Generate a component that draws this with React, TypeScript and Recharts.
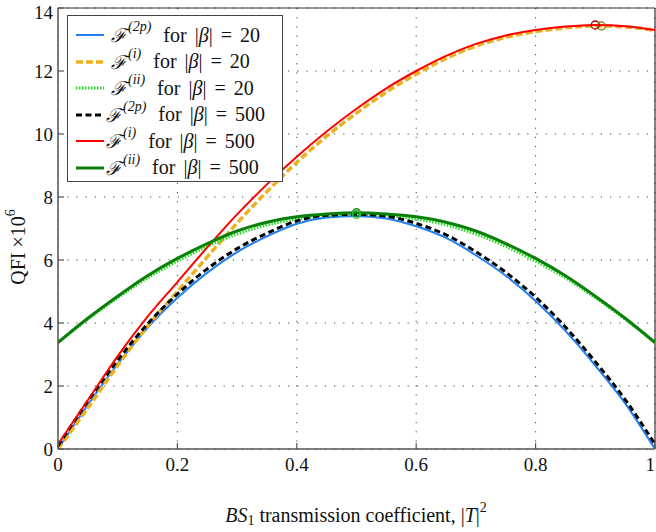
import { CartesianGrid, Line, LineChart, ReferenceDot, ReferenceLine, XAxis, YAxis } from "recharts"

const T = [0, 0.05, 0.1, 0.15, 0.2, 0.25, 0.3, 0.35, 0.4, 0.45, 0.5, 0.55, 0.6, 0.65, 0.7, 0.75, 0.8, 0.85, 0.9, 0.95, 1]

const f2p20 = [0, 1.4, 2.7, 3.85, 4.8, 5.6, 6.25, 6.75, 7.15, 7.35, 7.4, 7.32, 7.07, 6.7, 6.15, 5.5, 4.7, 3.75, 2.65, 1.45, 0]
const fi20 = [0, 1.3, 2.65, 3.9, 5.0, 6.1, 7.17, 8.17, 9.1, 9.93, 10.66, 11.33, 11.9, 12.4, 12.79, 13.07, 13.25, 13.37, 13.43, 13.4, 13.29]
const fii20 = [3.38, 4.12, 4.8, 5.43, 5.96, 6.43, 6.82, 7.11, 7.3, 7.41, 7.45, 7.41, 7.3, 7.11, 6.82, 6.43, 5.96, 5.43, 4.8, 4.12, 3.38]
const f2p500 = [0.1, 1.52, 2.82, 3.97, 4.92, 5.72, 6.36, 6.85, 7.24, 7.42, 7.45, 7.39, 7.16, 6.8, 6.26, 5.61, 4.82, 3.87, 2.77, 1.57, 0.15]
const fi500 = [0.15, 1.55, 2.95, 4.2, 5.3, 6.4, 7.45, 8.4, 9.28, 10.08, 10.8, 11.45, 12.0, 12.48, 12.86, 13.13, 13.3, 13.41, 13.46, 13.42, 13.3]
const fii500 = [3.38, 4.15, 4.85, 5.5, 6.05, 6.52, 6.92, 7.2, 7.37, 7.46, 7.5, 7.46, 7.37, 7.2, 6.92, 6.52, 6.05, 5.5, 4.85, 4.15, 3.38]

const xTicks = [0, 0.2, 0.4, 0.6, 0.8, 1]
const yTicks = [0, 2, 4, 6, 8, 10, 12, 14]

// optimum markers
const peaks = [
  { x: 0.9, y: 13.46, color: "#a00000" },
  { x: 0.91, y: 13.43, color: "#7a7a00" },
  { x: 0.5, y: 7.5, color: "#1a8a1a" },
  { x: 0.5, y: 7.45, color: "#20c040" },
]

const data = T.map((t, i) => ({
  t,
  f2p20: f2p20[i],
  fi20: fi20[i],
  fii20: fii20[i],
  f2p500: f2p500[i],
  fi500: fi500[i],
  fii500: fii500[i],
}))

const series = [
  { key: "f2p20", color: "#1e7ff0", width: 2, dash: undefined, sup: "(2p)", beta: "20" },
  { key: "fi20", color: "#edb120", width: 3.5, dash: "7 3", sup: "(i)", beta: "20" },
  { key: "fii20", color: "#22e022", width: 3, dash: "1.5 1.5", sup: "(ii)", beta: "20" },
  { key: "f2p500", color: "#000000", width: 3, dash: "6 3.5", sup: "(2p)", beta: "500" },
  { key: "fi500", color: "#ff0000", width: 2, dash: undefined, sup: "(i)", beta: "500" },
  { key: "fii500", color: "#0a7f0a", width: 3, dash: undefined, sup: "(ii)", beta: "500" },
]

const FONT = "'Liberation Serif', 'DejaVu Serif', serif"
const AXIS = "#555"

function fmtX(v: number) {
  if (v === 0) return "0"
  if (v === 1) return "1"
  return v.toFixed(1)
}

function XTick(props: any) {
  const { x, y, payload } = props
  const last = payload.value === 1
  return (
    <g>
      <line x1={x} x2={x} y1={y} y2={y - 6} stroke={AXIS} strokeWidth={1.2} />
      <text x={last ? x : x} y={y + 15} textAnchor={last ? "end" : "middle"} dominantBaseline="central" fontSize={19} fontFamily={FONT} fill="#111">
        {fmtX(payload.value)}
      </text>
    </g>
  )
}

function YTick(props: any) {
  const { x, y, payload } = props
  const shift = payload.value === 14 ? 4 : 0
  return (
    <g>
      <line x1={x} x2={x + 6} y1={y} y2={y} stroke={AXIS} strokeWidth={1.2} />
      <text x={x - 5} y={y + shift} textAnchor="end" dominantBaseline="central" fontSize={19} fontFamily={FONT} fill="#111">
        {payload.value}
      </text>
    </g>
  )
}

function YLabel() {
  return (
    <text x={18} y={247} transform="rotate(-90 18 247)" textAnchor="middle" dominantBaseline="central" fontSize={20} fontFamily={FONT} fill="#111">
      QFI ×10<tspan dy={-8} fontSize={14}>6</tspan>
    </text>
  )
}

function XLabel() {
  return (
    <text x={356} y={515} textAnchor="middle" dominantBaseline="central" fontSize={20} fontFamily={FONT} fill="#111">
      <tspan fontStyle="italic">BS</tspan>
      <tspan dy={5} fontSize={14}>1</tspan>
      <tspan dy={-5}> transmission coefficient, |</tspan>
      <tspan fontStyle="italic">T</tspan>
      <tspan>|</tspan>
      <tspan dy={-8} fontSize={14}>2</tspan>
    </text>
  )
}

function LegendBox() {
  return (
    <div
      style={{
        position: "absolute",
        left: 67,
        top: 15,
        width: 216,
        height: 167,
        border: "1px solid #444",
        background: "#fff",
        fontFamily: FONT,
        fontSize: 20,
        color: "#111",
        paddingTop: 6,
        boxSizing: "border-box",
      }}
    >
      {series.map((s, i) => (
        <div key={s.key} style={{ height: 26.5, display: "flex", alignItems: "center", whiteSpace: "nowrap" }}>
          <svg width={30} height={10} style={{ marginLeft: 7, marginRight: i < 3 ? 6 : 1 }}>
            <line x1={1} x2={29} y1={5} y2={5} stroke={s.color} strokeWidth={s.width} strokeDasharray={s.dash} />
          </svg>
          <span style={{ fontFamily: "'DejaVu Serif', serif", fontStyle: "italic", fontSize: 19 }}>ℱ</span>
          <span style={{ fontStyle: "italic", fontSize: 14, position: "relative", top: -8, marginLeft: 1 }}>{s.sup}</span>
          <span style={{ marginLeft: 12, wordSpacing: 3 }}>
            for |<span style={{ fontStyle: "italic" }}>β</span>| = {s.beta}
          </span>
        </div>
      ))}
    </div>
  )
}

export default function App() {
  return (
    <div style={{ position: "absolute", left: 0, top: 0, width: 656, height: 532, background: "#fff" }}>
      <LineChart width={656} height={532} data={data} margin={{ top: 8, right: 1, bottom: 53, left: 0 }}>
        <CartesianGrid stroke="#444" strokeDasharray="1.2 8" strokeWidth={1} />
        <XAxis
          dataKey="t"
          type="number"
          domain={[0, 1]}
          ticks={xTicks}
          tick={<XTick />}
          tickLine={false}
          tickSize={0}
          tickMargin={0}
          axisLine={{ stroke: AXIS, strokeWidth: 1.5 }}
          interval={0}
          allowDataOverflow
        />
        <YAxis
          type="number"
          domain={[0, 14]}
          ticks={yTicks}
          width={58}
          tick={<YTick />}
          tickLine={false}
          tickSize={0}
          tickMargin={0}
          axisLine={{ stroke: AXIS, strokeWidth: 1.5 }}
          interval={0}
          allowDataOverflow
        />
        <ReferenceLine y={14} stroke="#333" strokeWidth={1.2} />
        <ReferenceLine x={1} stroke="#333" strokeWidth={1.2} />
        {series.map((s) => (
          <Line
            key={s.key}
            type="monotone"
            dataKey={s.key}
            stroke={s.color}
            strokeWidth={s.width}
            strokeDasharray={s.dash}
            dot={false}
            activeDot={false}
            isAnimationActive={false}
          />
        ))}
        {peaks.map((p, i) => (
          <ReferenceDot key={i} x={p.x} y={p.y} r={4} fill="none" stroke={p.color} strokeWidth={1.3} />
        ))}
      </LineChart>
      <svg width={656} height={532} style={{ position: "absolute", left: 0, top: 0, pointerEvents: "none" }}>
        <YLabel />
        <XLabel />
      </svg>
      <LegendBox />
    </div>
  )
}
